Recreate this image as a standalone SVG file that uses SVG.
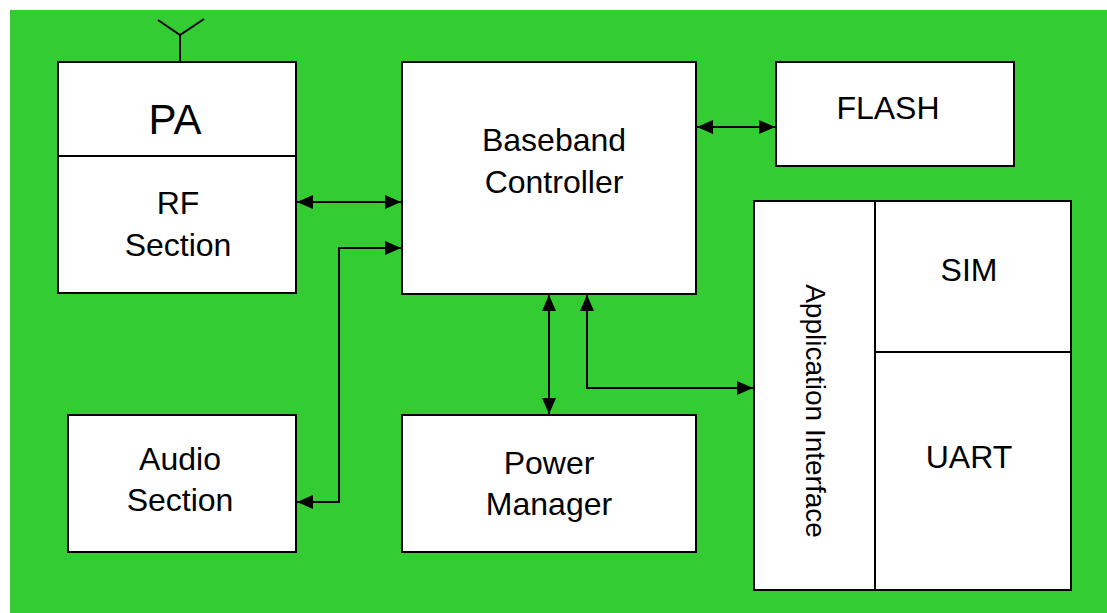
<svg xmlns="http://www.w3.org/2000/svg" width="1107" height="613" viewBox="0 0 1107 613">
<style>
.box{fill:#fff;stroke:#000;stroke-width:2}
.ln{fill:none;stroke:#000;stroke-width:2}
.t{font-family:"Liberation Sans",Arial,sans-serif;font-size:32px;fill:#000;text-anchor:middle}
.c{stroke:#000;stroke-width:2;fill:none}
</style>
<defs>
<marker id="ah" markerUnits="userSpaceOnUse" markerWidth="18" markerHeight="18" refX="16" refY="9" orient="auto-start-reverse">
<path d="M0,2 L16,9 L0,16 Z" fill="#000"/>
</marker>
</defs>
<rect x="10" y="10" width="1097" height="603" fill="#33cc33"/>
<g id="pa-rf">
<path class="ln" d="M180,62 V35 M158,20 L180,35 L204,19"/>
<rect class="box" x="58" y="62" width="238" height="231"/>
<line class="ln" x1="58" y1="156" x2="296" y2="156"/>
<text class="t" x="175" y="134" style="font-size:42px">PA</text>
<text class="t" x="178" y="214">RF</text>
<text class="t" x="178" y="256">Section</text>
</g>
<g id="baseband">
<rect class="box" x="402" y="62" width="294" height="232"/>
<text class="t" x="554" y="151">Baseband</text>
<text class="t" x="554" y="193">Controller</text>
</g>
<g id="flash">
<rect class="box" x="776" y="62" width="238" height="104"/>
<text class="t" x="888" y="119">FLASH</text>
</g>
<g id="audio">
<rect class="box" x="68" y="415" width="228" height="137"/>
<text class="t" x="180" y="470">Audio</text>
<text class="t" x="180" y="511">Section</text>
</g>
<g id="power">
<rect class="box" x="402" y="415" width="294" height="137"/>
<text class="t" x="549" y="474">Power</text>
<text class="t" x="549" y="515">Manager</text>
</g>
<g id="app-interface">
<rect class="box" x="754" y="201" width="317" height="389"/>
<line class="ln" x1="875" y1="201" x2="875" y2="590"/>
<line class="ln" x1="875" y1="352" x2="1071" y2="352"/>
<text class="t" transform="translate(806,411) rotate(90)" style="font-size:28px">Application Interface</text>
<text class="t" x="969" y="281">SIM</text>
<text class="t" x="969" y="468">UART</text>
</g>
<g id="connectors">
<line class="c" x1="297" y1="202" x2="401" y2="202" marker-start="url(#ah)" marker-end="url(#ah)"/>
<polyline class="c" points="297,502 339,502 339,248 401,248" marker-start="url(#ah)" marker-end="url(#ah)"/>
<line class="c" x1="549" y1="295" x2="549" y2="414" marker-start="url(#ah)" marker-end="url(#ah)"/>
<polyline class="c" points="587,295 587,388 753,388" marker-start="url(#ah)" marker-end="url(#ah)"/>
<line class="c" x1="697" y1="127" x2="775" y2="127" marker-start="url(#ah)" marker-end="url(#ah)"/>
</g>
</svg>
